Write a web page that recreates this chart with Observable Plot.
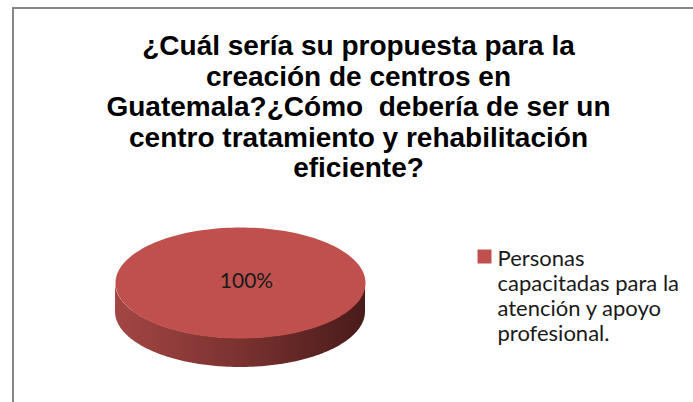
<!DOCTYPE html>
<html>
<head>
<meta charset="utf-8">
<script src="https://cdn.jsdelivr.net/npm/d3@7"></script>
<script src="https://cdn.jsdelivr.net/npm/@observablehq/plot@0.6"></script>
<style>
  html, body { margin: 0; padding: 0; background: #fff; }
  #wrap { position: relative; width: 693px; height: 402px; overflow: hidden; }
  #border { position: absolute; left: 12px; top: 7px; right: -10px; bottom: -10px;
            border-top: 2.5px solid #878787; border-left: 2.5px solid #878787; pointer-events: none; }
</style>
</head>
<body>
<div id="wrap"><div id="border"></div></div>
<script>
// ---- data ----
const titleLines = [
  "¿Cuál sería su propuesta para la",
  "creación de centros en",
  "Guatemala?¿Cómo  debería de ser un",
  "centro tratamiento y rehabilitación",
  "eficiente?"
];
const categories = ["Personas capacitadas para la atención y apoyo profesional."];
const values = [100];
const percentLabels = ["100%"];
const legendLines = ["Personas", "capacitadas para la", "atención y apoyo", "profesional."];
const colors = ["#C0504D"];

// ---- geometry (pixel-space scales) ----
const W = 693, H = 402;
const cx = 240, cy = 282.5, rx = 125, ry = 55.5, depth = 29;

const pie = d3.pie().sort(null).value(d => d.value)(
  categories.map((c, i) => ({category: c, value: values[i], label: percentLabels[i], color: colors[i]}))
);

const pt = (a, dy = 0) => ({x: cx + rx * Math.sin(a), y: cy - ry * Math.cos(a) + dy});

const topPts = [];
const sidePts = [];
pie.forEach((s, i) => {
  const full = s.endAngle - s.startAngle >= 2 * Math.PI - 1e-9;
  const n = 180;
  if (!full) topPts.push({x: cx, y: cy, k: i, color: s.data.color});
  for (let j = 0; j <= n; j++) {
    const a = s.startAngle + (s.endAngle - s.startAngle) * j / n;
    topPts.push({...pt(a), k: i, color: s.data.color});
  }
  // front side: angles between PI/2 and 3PI/2
  const a0 = Math.max(s.startAngle, Math.PI / 2), a1 = Math.min(s.endAngle, 3 * Math.PI / 2);
  if (a1 > a0) {
    for (let j = 0; j <= n; j++) {
      const a = a0 + (a1 - a0) * j / n;
      const p = pt(a);
      sidePts.push({x: p.x, y1: p.y, y2: p.y + depth, k: i});
    }
  }
});

const labelPts = pie.map(s => {
  const full = s.endAngle - s.startAngle >= 2 * Math.PI - 1e-9;
  const mid = (s.startAngle + s.endAngle) / 2;
  const p = full ? {x: cx, y: cy} : {x: cx + 0.6 * rx * Math.sin(mid), y: cy - 0.6 * ry * Math.cos(mid)};
  return {...p, label: s.data.label};
});

const legendX = 476, legendY = 256;

const chart = Plot.plot({
  width: W, height: H,
  margin: 0,
  x: {domain: [0, W], range: [0, W], axis: null},
  y: {domain: [0, H], range: [0, H], axis: null},
  style: {background: "transparent"},
  marks: [
    Plot.areaY(sidePts, {x: "x", y1: "y1", y2: "y2", z: "k", fill: "url(#sideGrad)", curve: "linear"}),
    Plot.line(topPts, {x: "x", y: "y", z: "k", fill: d => d.color, stroke: "none", curve: "linear-closed"}),
    Plot.text(labelPts, {x: "x", y: "y", text: "label", dx: 6, dy: -2, fontFamily: "Lato", fontSize: 21, fill: "#1a1a1a"}),
    Plot.text([titleLines.join("\n")], {x: () => 358, y: () => 33, text: d => d, textAnchor: "middle", lineAnchor: "top",
      lineHeight: 30.5 / 28, fontFamily: "Liberation Sans, Arial, sans-serif", fontWeight: "bold", fontSize: 28, fill: "#000"}),
    Plot.dot(categories, {x: () => legendX + 8, y: () => legendY, symbol: "square", r: 7.9, fill: (d, i) => colors[i], stroke: "none"}),
    Plot.text([legendLines.join("\n")], {x: () => 497, y: () => 247.5, text: d => d, textAnchor: "start", lineAnchor: "top",
      lineHeight: 25 / 22, fontFamily: "Lato", fontSize: 22, fill: "#1a1a1a"})
  ]
});

// gradient for the pie side
const defs = d3.select(chart).insert("defs", ":first-child");
const g = defs.append("linearGradient").attr("id", "sideGrad").attr("x1", "0").attr("x2", "1").attr("y1", "0").attr("y2", "0");
g.append("stop").attr("offset", "0%").attr("stop-color", "#a34644");
g.append("stop").attr("offset", "50%").attr("stop-color", "#7a3230");
g.append("stop").attr("offset", "100%").attr("stop-color", "#481b1a");

document.getElementById("wrap").prepend(chart);
</script>
</body>
</html>
